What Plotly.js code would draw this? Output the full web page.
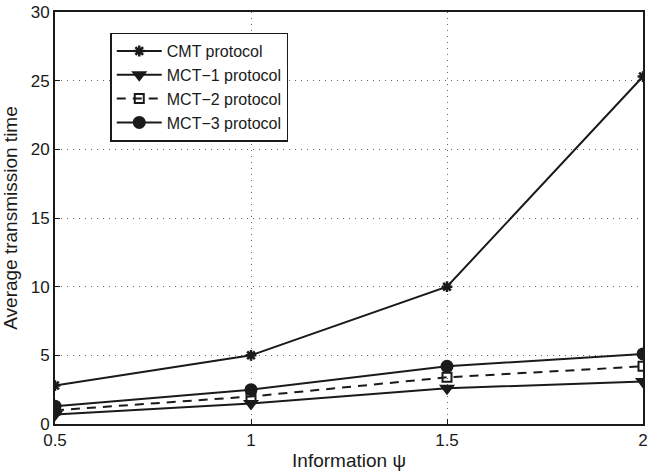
<!DOCTYPE html>
<html><head><meta charset="utf-8">
<script src="https://cdn.plot.ly/plotly-3.0.1.min.js"></script>
<style>html,body{margin:0;padding:0;background:#fff}#chart{width:648px;height:471px}</style>
</head><body><div id="chart"></div>
<script>
const xVals = [0.5, 1, 1.5, 2];
const cmt = [2.8, 5.0, 10.0, 25.3];
const mct1 = [0.7, 1.5, 2.6, 3.1];
const mct2 = [1.0, 2.0, 3.4, 4.2];
const mct3 = [1.3, 2.5, 4.2, 5.1];
const names = ['CMT protocol', 'MCT\u22121 protocol', 'MCT\u22122 protocol', 'MCT\u22123 protocol'];
const xTicks = [0.5, 1, 1.5, 2];
const xTickText = ['0.5', '1', '1.5', '2'];
const yTicks = [0, 5, 10, 15, 20, 25, 30];

const c = '#1a1a1a';
const traces = [
  {x: xVals, y: cmt, name: names[0], mode: 'lines+markers',
   line: {color: c, width: 2}, marker: {symbol: 'asterisk-open', size: 9, color: c, line: {color: c, width: 2.5}}},
  {x: xVals, y: mct1, name: names[1], mode: 'lines+markers',
   line: {color: c, width: 2}, marker: {symbol: 'triangle-down', size: 14, color: c}},
  {x: xVals, y: mct2, name: names[2], mode: 'lines+markers',
   line: {color: c, width: 2, dash: '9px,7px'}, marker: {symbol: 'square-open', size: 9, color: c, line: {color: c, width: 2}}},
  {x: xVals, y: mct3, name: names[3], mode: 'lines+markers',
   line: {color: c, width: 2}, marker: {symbol: 'circle', size: 13, color: c}}
];

const axisCommon = {
  showline: true, mirror: true, linecolor: c, linewidth: 2,
  ticks: 'inside', ticklen: 5, tickcolor: c, tickwidth: 1,
  showgrid: true, gridcolor: '#666', griddash: '1px,5px', gridwidth: 1,
  zeroline: false,
  tickfont: {family: 'Liberation Sans, Arial, sans-serif', size: 17, color: c}
};

const layout = {
  width: 648, height: 471,
  margin: {l: 55, r: 5, t: 12, b: 47},
  paper_bgcolor: '#fff', plot_bgcolor: '#fff',
  font: {family: 'Liberation Sans, Arial, sans-serif', color: c},
  xaxis: Object.assign({}, axisCommon, {
    range: [0.5, 2], tickvals: xTicks, ticktext: xTickText,
    title: {text: 'Information \u03c8', font: {size: 19, color: c}, standoff: 6}
  }),
  yaxis: Object.assign({}, axisCommon, {
    range: [0, 30], tickvals: yTicks,
    title: {text: 'Average transmission time', font: {size: 19, color: c}, standoff: 10}
  }),
  showlegend: true,
  legend: {x: 0.094, y: 0.95, xanchor: 'left', yanchor: 'top',
    bordercolor: c, borderwidth: 1.5, bgcolor: '#fff',
    font: {size: 16, color: c}, tracegroupgap: 0, itemwidth: 45}
};

Plotly.newPlot('chart', traces, layout, {displayModeBar: false, staticPlot: true});
</script></body></html>
